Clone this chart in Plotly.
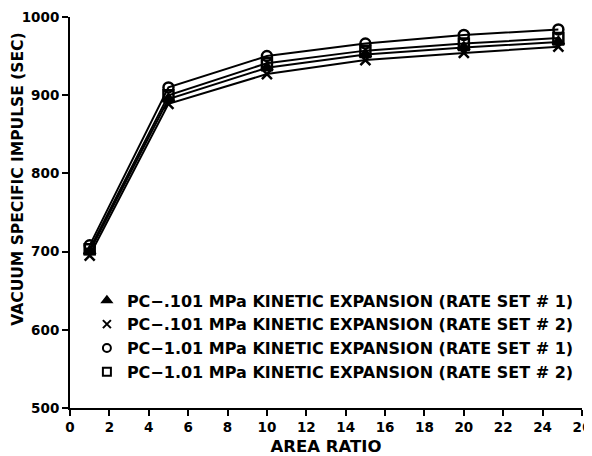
import plotly.graph_objects as go

area_ratio = [1, 5, 10, 15, 20, 24.8]
isp_pc0101_set1 = [700, 895, 935, 952, 961, 968]   # triangle
isp_pc0101_set2 = [695, 889, 927, 945, 954, 962]   # x
isp_pc101_set1 = [708, 910, 950, 966, 977, 984]    # circle
isp_pc101_set2 = [703, 900, 941, 957, 966, 973]    # square

names = [
    "PC\u2212.101 MPa KINETIC EXPANSION (RATE SET # 1)",
    "PC\u2212.101 MPa KINETIC EXPANSION (RATE SET # 2)",
    "PC\u22121.01 MPa KINETIC EXPANSION (RATE SET # 1)",
    "PC\u22121.01 MPa KINETIC EXPANSION (RATE SET # 2)",
]
series = [isp_pc0101_set1, isp_pc0101_set2, isp_pc101_set1, isp_pc101_set2]
symbols = ["triangle-up", "x-thin", "circle-open", "square-open"]

fig = go.Figure()
for name, ys, sym in zip(names, series, symbols):
    fig.add_trace(go.Scatter(
        x=area_ratio, y=ys, name=name, mode="lines+markers",
        showlegend=False,
        line=dict(color="black", width=2),
        marker=dict(symbol=sym, size=10, color="black",
                    line=dict(color="black", width=2.5)),
    ))
# legend-only entries (symbol without line)
for name, sym in zip(names, symbols):
    fig.add_trace(go.Scatter(
        x=[None], y=[None], name=name, mode="markers",
        marker=dict(symbol=sym, size=8, color="black",
                    line=dict(color="black", width=2)),
    ))

font = dict(family="DejaVu Sans, Liberation Sans, sans-serif", size=14,
            color="black", weight="bold")
fig.update_layout(
    width=584, height=448,
    margin=dict(l=62, r=10, t=9, b=48),
    paper_bgcolor="white", plot_bgcolor="white",
    font=font,
    showlegend=True,
    legend=dict(x=0.033, y=0.183, xanchor="left", yanchor="middle",
                bgcolor="rgba(0,0,0,0)",
                font=dict(size=16, weight="bold"),
                tracegroupgap=0, itemwidth=30),
    xaxis=dict(range=[0, 26], tickmode="array",
               tickvals=list(range(0, 27, 2)),
               automargin=False,
               showgrid=False, zeroline=False,
               showline=True, linecolor="black", linewidth=2,
               ticks="outside", ticklen=6, tickwidth=2, tickcolor="black",
               title=dict(text="AREA RATIO", standoff=9,
                          font=dict(size=16.5, weight="bold")),
               tickfont=dict(size=13.5, weight="bold")),
    yaxis=dict(range=[500, 1000], tickmode="array",
               tickvals=[500, 600, 700, 800, 900, 1000],
               automargin=False,
               showgrid=False, zeroline=False,
               showline=True, linecolor="black", linewidth=2,
               ticks="outside", ticklen=6, tickwidth=2, tickcolor="black",
               tickfont=dict(size=13.5, weight="bold")),
    annotations=[dict(
        text="VACUUM SPECIFIC IMPULSE (SEC)", textangle=-90,
        xref="paper", yref="paper", x=-0.102, y=0.586,
        xanchor="center", yanchor="middle", showarrow=False,
        font=dict(size=15.5, weight="bold"),
    )],
)

fig.write_html("out.html")
